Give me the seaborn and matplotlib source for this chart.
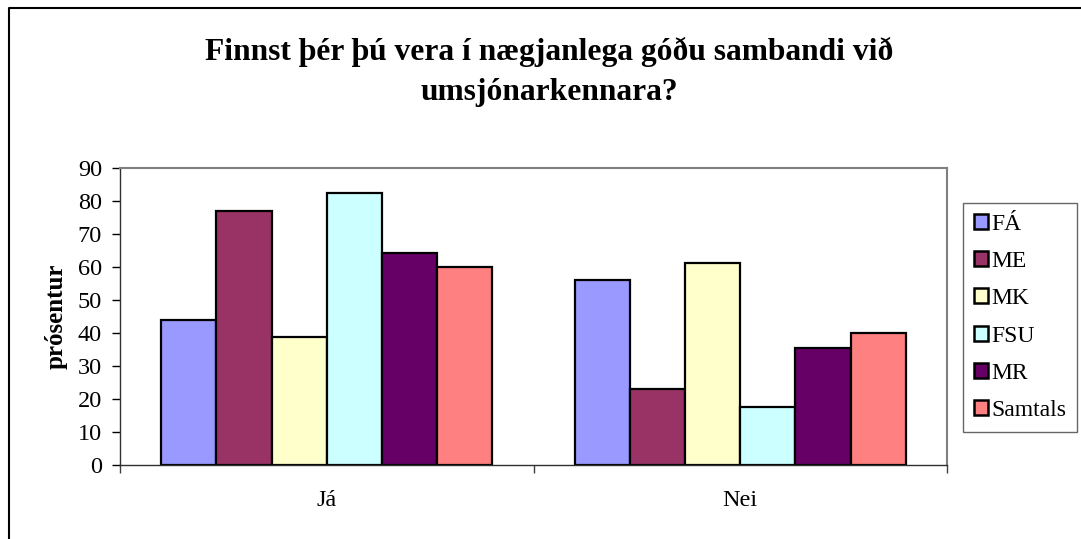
import matplotlib
matplotlib.use("Agg")
import matplotlib.pyplot as plt
import seaborn as sns
import pandas as pd
from matplotlib.lines import Line2D

# ---- data ----
categories = ["Já", "Nei"]
schools = ["FÁ", "ME", "MK", "FSU", "MR", "Samtals"]
ja_values = [44.0, 76.9, 38.8, 82.4, 64.4, 60.0]
nei_values = [56.0, 23.1, 61.2, 17.6, 35.6, 40.0]
colors = ["#9999FF", "#993366", "#FFFFCC", "#CCFFFF", "#660066", "#FF8080"]
title = "Finnst þér þú vera í nægjanlega góðu sambandi við\numsjónarkennara?"
ylabel = "prósentur"
yticks = [0, 10, 20, 30, 40, 50, 60, 70, 80, 90]

rows = []
for s, a, b in zip(schools, ja_values, nei_values):
    rows.append({"svar": categories[0], "skoli": s, "prosent": a})
    rows.append({"svar": categories[1], "skoli": s, "prosent": b})
df = pd.DataFrame(rows)

sns.set_style("white")
plt.rcParams["font.family"] = ["Liberation Serif", "DejaVu Serif"]
for k in ["text.color", "axes.labelcolor", "xtick.color", "ytick.color"]:
    plt.rcParams[k] = "black"

W, H = 1081, 539
fig = plt.figure(figsize=(W / 100, H / 100), dpi=100)
ax = fig.add_axes([120 / W, 1 - 465 / H, (947 - 120) / W, (465 - 168.3) / H])

sns.barplot(data=df, x="svar", y="prosent", hue="skoli", order=categories,
            hue_order=schools, palette=colors, saturation=1, width=0.8,
            edgecolor="black", linewidth=1.6, ax=ax, legend=True)

ax.set_xlim(-0.5, 1.5)
ax.set_ylim(0, 90)
ax.set_yticks(yticks)
ax.set_yticklabels([str(t) for t in yticks], fontsize=17.5)
ax.set_xlabel("")
ax.set_ylabel(ylabel, fontsize=18, fontweight="bold", labelpad=7)
ax.tick_params(axis="y", direction="out", length=5.5, width=1, pad=7.5, left=True, colors="black")
ax.set_xticks([0, 1])
ax.set_xticklabels(categories, fontsize=17.5)
ax.tick_params(axis="x", which="major", length=0, pad=18)
ax.set_xticks([-0.5, 0.5, 1.5], minor=True)
ax.tick_params(axis="x", which="minor", direction="out", length=6, width=1, color="#404040", bottom=True)

for side in ["top", "right"]:
    ax.spines[side].set_color("#808080")
    ax.spines[side].set_linewidth(1.5)
    ax.spines[side].set_visible(True)
for side in ["left", "bottom"]:
    ax.spines[side].set_color("#303030")
    ax.spines[side].set_linewidth(1.0)
    ax.spines[side].set_visible(True)

# legend
handles = [plt.Rectangle((0, 0), 1, 1, facecolor=c, edgecolor="black", linewidth=1.8) for c in colors]
leg = fig.legend(handles, schools, loc="upper left", bbox_to_anchor=(963 / W, 1 - 203 / H),
                 fontsize=17, frameon=True, fancybox=False, edgecolor="#404040",
                 handlelength=0.6, handleheight=0.6, handletextpad=0.15,
                 labelspacing=0.69, borderpad=0.45, borderaxespad=0)
leg.get_frame().set_linewidth(1.0)
if ax.get_legend() is not None:
    ax.get_legend().remove()

fig.text(549 / W, 1 - 72 / H, title, ha="center", va="center", fontsize=22.7,
         fontweight="bold", linespacing=1.5)

# outer chart-area frame (left and top edges visible)
fig.add_artist(Line2D([9 / W, 9 / W, 1.0], [0.0, 1 - 8 / H, 1 - 8 / H],
                      transform=fig.transFigure, color="black", linewidth=1.5))

fig.savefig("out.png", dpi=100)
